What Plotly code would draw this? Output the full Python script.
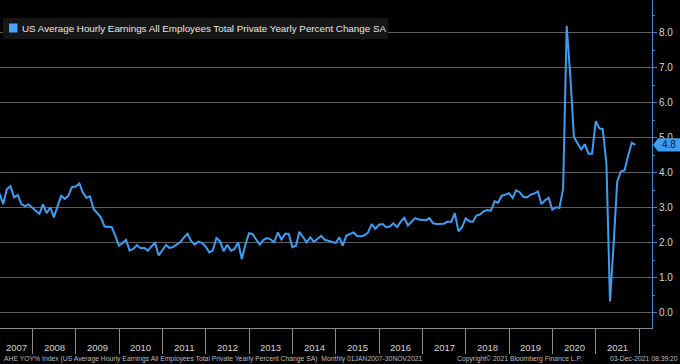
import calendar
import pandas as pd
import plotly.graph_objects as go

# ---------------- data ----------------
series_name = "US Average Hourly Earnings All Employees Total Private Yearly Percent Change SA"
ticker_text = ("AHE YOY% Index (US Average Hourly Earnings All Employees Total Private "
               "Yearly Percent Change SA)  Monthly 01JAN2007-30NOV2021")
copyright_text = "Copyright\u00a9 2021 Bloomberg Finance L.P."
stamp_text = "03-Dec-2021 08:39:20"

first_year, first_month = 2007, 3          # series starts Mar 2007 (month-end points)
v2007 = [3.40, 3.11, 3.54, 3.62, 3.30, 3.37, 3.11, 3.05, 3.10, 3.00]            # Mar-Dec
v2008 = [2.90, 2.83, 3.10, 2.85, 3.02, 2.73, 3.05, 3.35, 3.26, 3.35, 3.60, 3.61]
v2009 = [3.70, 3.45, 3.29, 3.33, 2.97, 2.85, 2.73, 2.47, 2.47, 2.45, 2.20, 1.92]
v2010 = [2.00, 2.09, 1.78, 1.83, 1.94, 1.85, 1.86, 1.78, 1.90, 2.00, 1.64, 1.80]
v2011 = [1.94, 1.86, 1.88, 1.95, 2.02, 2.15, 2.26, 2.05, 1.95, 2.04, 2.00, 1.90]
v2012 = [1.73, 1.78, 2.14, 2.05, 1.76, 1.95, 1.78, 1.83, 2.02, 1.54, 1.95, 2.28]
v2013 = [2.25, 2.10, 1.95, 2.08, 2.14, 2.10, 2.02, 2.30, 2.10, 2.26, 2.26, 1.88]
v2014 = [1.92, 2.32, 2.16, 2.02, 2.16, 2.03, 2.12, 2.20, 2.09, 2.06, 2.03, 2.00]
v2015 = [2.16, 1.92, 2.21, 2.26, 2.30, 2.20, 2.19, 2.22, 2.30, 2.54, 2.40, 2.52]
v2016 = [2.54, 2.45, 2.47, 2.56, 2.45, 2.60, 2.72, 2.50, 2.60, 2.71, 2.67, 2.65]
v2017 = [2.65, 2.71, 2.56, 2.54, 2.54, 2.55, 2.61, 2.60, 2.85, 2.33, 2.45, 2.70]
v2018 = [2.62, 2.60, 2.78, 2.81, 2.90, 2.94, 2.92, 3.19, 3.15, 3.35, 3.38, 3.42]
v2019 = [3.28, 3.50, 3.45, 3.32, 3.30, 3.38, 3.41, 3.47, 3.11, 3.22, 3.29, 2.95]
v2020 = [3.02, 3.00, 3.55, 8.20, 6.74, 5.03, 4.84, 4.67, 4.82, 4.55, 4.55, 5.48]
v2021 = [5.27, 5.25, 4.27, 0.33, 2.00, 3.75, 4.04, 4.08, 4.50, 4.86, 4.80]        # Jan-Nov

values = (v2007 + v2008 + v2009 + v2010 + v2011 + v2012 + v2013 + v2014 +
          v2015 + v2016 + v2017 + v2018 + v2019 + v2020 + v2021)

year_labels = [str(y) for y in range(2007, 2022)]
y_tick_vals = [0, 1, 2, 3, 4, 5, 6, 7, 8]
y_tick_text = [f"{v:.1f}" for v in y_tick_vals]

# month-end dates for each observation
dates = []
yy, mm = first_year, first_month
for _ in values:
    dates.append(f"{yy:04d}-{mm:02d}-{calendar.monthrange(yy, mm)[1]:02d}")
    mm += 1
    if mm > 12:
        mm, yy = 1, yy + 1

# ---------------- style / layout ----------------
W, H = 680, 364
ML, MR, MT, MB = 0, 28, 0, 36
PW, PH = W - ML - MR, H - MT - MB
x_range = ["2007-04-03", "2022-04-19"]
y_range = [-0.43, 8.94]

LINE = "#3d9df2"
GRID = "#5e5e5e"
TXT = "#d4d4d4"
FONT = "Liberation Sans, Arial, sans-serif"


def px_x(p):  # pixel offset from plot left -> paper
    return p / PW


def px_y(p):  # pixel offset from plot top -> paper
    return 1 - p / PH


fig = go.Figure()
fig.add_trace(go.Scatter(x=dates, y=values, mode="lines", name=series_name,
                         line=dict(color=LINE, width=2), showlegend=False,
                         hovertemplate="%{x|%b %Y}: %{y:.1f}<extra></extra>"))

# year dividers at each Jan 1
year_bounds = [f"{y}-01-01" for y in range(2008, 2023)]

fig.update_layout(
    width=W, height=H, margin=dict(l=ML, r=MR, t=MT, b=MB),
    paper_bgcolor="#000000", plot_bgcolor="#000000",
    font=dict(family=FONT, color=TXT, size=10),
    showlegend=False,
    xaxis=dict(type="date", range=x_range, showgrid=False, zeroline=False,
               showline=True, linecolor="#8c8c8c", linewidth=1,
               tickmode="array", tickvals=year_bounds, ticks="outside",
               ticklen=25, tickcolor="#8c8c8c", tickwidth=1,
               showticklabels=False, fixedrange=True),
    yaxis=dict(side="right", range=y_range, tickmode="array",
               tickvals=y_tick_vals, ticktext=y_tick_text,
               showgrid=True, gridcolor=GRID, gridwidth=1, zeroline=False,
               showline=True, linecolor="#3f86d6", linewidth=1,
               ticks="outside", ticklen=4, tickcolor="#3f86d6",
               tickfont=dict(family=FONT, size=10, color=TXT),
               minor=dict(dtick=0.5, tick0=0, ticks="outside", ticklen=2,
                          tickcolor="#3f86d6", showgrid=False),
               fixedrange=True),
)

annotations = []
# year labels centred in the visible part of each year
xs, xe = pd.Timestamp(x_range[0]), pd.Timestamp(x_range[1])
for lab in year_labels:
    a = max(pd.Timestamp(f"{lab}-01-01"), xs)
    b = min(pd.Timestamp(f"{int(lab) + 1}-01-01"), xe)
    mid = a + (b - a) / 2
    annotations.append(dict(x=mid.strftime("%Y-%m-%d %H:%M"), xref="x", y=0, yref="paper",
                            yshift=-19, yanchor="middle", xanchor="center", showarrow=False,
                            text=lab, font=dict(family=FONT, size=9.5, color=TXT)))

# footer
foot_y = -30.5
FOOT = dict(family=FONT, size=6.8, color="#bdbdbd")
annotations += [
    dict(x=px_x(2), xref="paper", y=0, yref="paper", yshift=foot_y, xanchor="left",
         yanchor="middle", showarrow=False, text=ticker_text, font=FOOT),
    dict(x=px_x(455), xref="paper", y=0, yref="paper", yshift=foot_y, xanchor="left",
         yanchor="middle", showarrow=False, text=copyright_text, font=FOOT),
    dict(x=px_x(680), xref="paper", y=0, yref="paper", yshift=foot_y, xanchor="right",
         yanchor="middle", showarrow=False, text=stamp_text, font=FOOT),
]

# legend (box + swatch + text)
shapes = [
    dict(type="rect", xref="paper", yref="paper", x0=px_x(3), x1=px_x(388),
         y0=px_y(39), y1=px_y(18), fillcolor="#161616", line=dict(width=0), layer="above"),
    dict(type="rect", xref="paper", yref="paper", x0=px_x(9), x1=px_x(17.5),
         y0=px_y(32.5), y1=px_y(23.5), fillcolor="#4aa3f7", line=dict(width=0), layer="above"),
]
annotations.append(dict(x=px_x(20), xref="paper", y=px_y(28.5), yref="paper",
                        xanchor="left", yanchor="middle", showarrow=False,
                        text=series_name, font=dict(family=FONT, size=9.8, color="#e6e6e6")))

# last value tag on the right axis
last = values[-1]
half = 0.19
tip, body0, body1 = 1.0 + px_x(1), 1.0 + px_x(6), 1.0 + px_x(28)
shapes.append(dict(type="path", xref="paper", yref="y",
                   path=(f"M {tip},{last} L {body0},{last - half} L {body1},{last - half} "
                         f"L {body1},{last + half} L {body0},{last + half} Z"),
                   fillcolor=LINE, line=dict(width=0), layer="above"))
annotations.append(dict(x=1.0 + px_x(17), xref="paper", y=last, yref="y",
                        xanchor="center", yanchor="middle", showarrow=False,
                        text=f"{last:.1f}", font=dict(family=FONT, size=10, color="#0a1a33")))

fig.update_layout(annotations=annotations, shapes=shapes)
fig.write_html("out.html", config={"displayModeBar": False})

# remove the browser's default page margin so the 680x364 figure fills the window
with open("out.html", encoding="utf-8") as f:
    html = f.read()
html = html.replace("<head>", "<head><style>html,body{margin:0;padding:0;overflow:hidden;}</style>", 1)
with open("out.html", "w", encoding="utf-8") as f:
    f.write(html)
